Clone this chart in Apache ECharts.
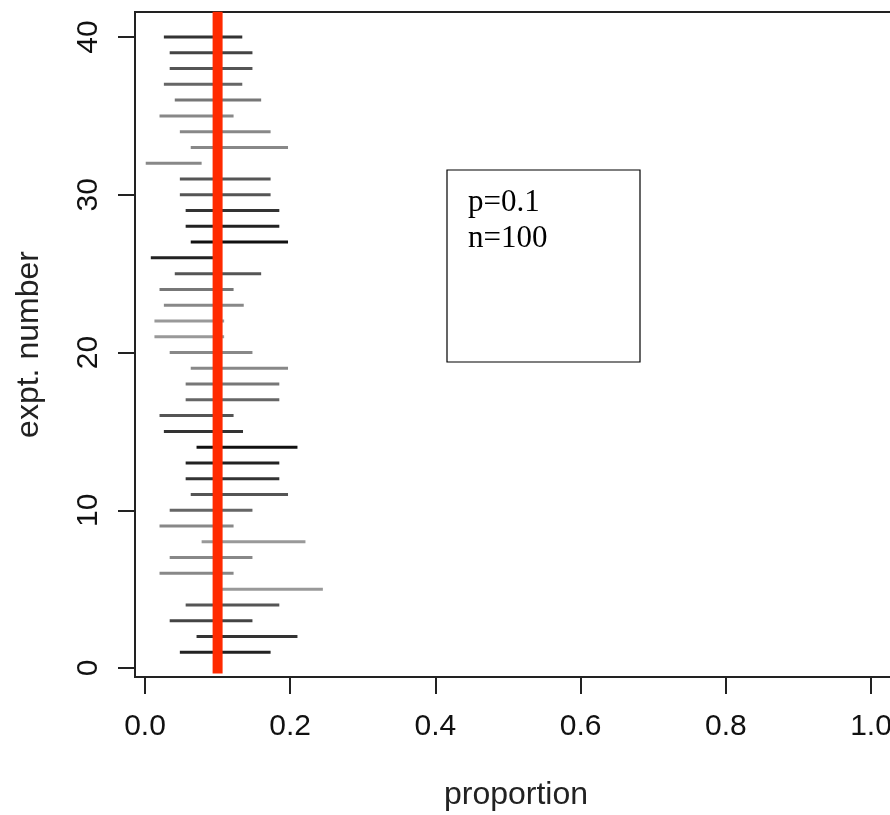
<!DOCTYPE html>
<html>
<head>
<meta charset="utf-8">
<script src="https://cdn.jsdelivr.net/npm/echarts@6/dist/echarts.min.js"></script>
<style>
  html, body { margin: 0; padding: 0; background: #fff; }
  #chart { width: 890px; height: 815px; }
</style>
</head>
<body>
<div id="chart"></div>
<script>
// true proportion and sample size of the simulated experiments
var pTrue = 0.1;
var nSize = 100;
// experiment numbers, bottom to top
var exptNo = [1, 2, 3, 4, 5, 6, 7, 8, 9, 10,
	11, 12, 13, 14, 15, 16, 17, 18, 19, 20,
	21, 22, 23, 24, 25, 26, 27, 28, 29, 30,
	31, 32, 33, 34, 35, 36, 37, 38, 39, 40];
// interval ends
var lower = [0.048, 0.071, 0.034, 0.056, 0.096, 0.020, 0.034, 0.078, 0.020, 0.034,
	0.063, 0.056, 0.056, 0.071, 0.026, 0.020, 0.056, 0.056, 0.063, 0.034,
	0.013, 0.013, 0.026, 0.020, 0.041, 0.008, 0.063, 0.056, 0.056, 0.048,
	0.048, 0.001, 0.063, 0.048, 0.020, 0.041, 0.026, 0.034, 0.034, 0.026];
var upper = [0.173, 0.210, 0.148, 0.185, 0.245, 0.122, 0.148, 0.221, 0.122, 0.148,
	0.197, 0.185, 0.185, 0.210, 0.135, 0.122, 0.185, 0.185, 0.197, 0.148,
	0.109, 0.109, 0.136, 0.122, 0.160, 0.095, 0.197, 0.185, 0.185, 0.173,
	0.173, 0.078, 0.197, 0.173, 0.122, 0.160, 0.134, 0.148, 0.148, 0.134];
// grey level of each interval
var shade = ['#222', '#333', '#444', '#555', '#999', '#888', '#888', '#999', '#888', '#666',
	'#555', '#333', '#222', '#111', '#333', '#555', '#666', '#777', '#888', '#888',
	'#999', '#999', '#888', '#777', '#555', '#222', '#111', '#222', '#333', '#555',
	'#555', '#888', '#888', '#888', '#888', '#777', '#666', '#555', '#444', '#333'];
var xTicks = [0, 0.2, 0.4, 0.6, 0.8, 1.0];
var yTicks = [0, 10, 20, 30, 40];
// full vertical extent of the plot region (for the p line)
var yLimits = [-0.35, 41.6];

var chart = echarts.init(document.getElementById('chart'));
var axisFont = 'Liberation Sans, Arial, Helvetica, sans-serif';

var intervalData = exptNo.map(function (n, i) {
	return [lower[i], upper[i], n];
});

var hiddenParts = {
	axisLine : {show : false}, axisTick : {show : false},
	axisLabel : {show : false}, splitLine : {show : false}
};

var option = {
	animation : false,
	backgroundColor : '#fff',
	grid : [
		// data region
		{left : 145, top : 37, width : 726, height : 631, show : false, outerBoundsMode : 'none'},
		// plot box
		{left : 135, top : 12, width : 762, height : 665, show : true, outerBoundsMode : 'none',
			borderColor : '#222', borderWidth : 2, backgroundColor : 'transparent'}
	],
	xAxis : [{
		gridIndex : 0, type : 'value', min : xTicks[0], max : xTicks[xTicks.length - 1],
		interval : 0.2, offset : 9,
		axisLine : {show : true, onZero : false, lineStyle : {color : '#222', width : 2}},
		axisTick : {show : true, length : 17, lineStyle : {color : '#222', width : 2}},
		axisLabel : {margin : 35, fontFamily : axisFont, fontSize : 30, color : '#111',
			formatter : function (v) { return v.toFixed(1); }},
		splitLine : {show : false}
	}, echarts.util.extend({
		gridIndex : 1, type : 'value', min : 0, max : 1,
		name : 'proportion', nameLocation : 'middle', nameGap : 102,
		nameTextStyle : {fontFamily : axisFont, fontSize : 32, color : '#222'}
	}, hiddenParts)],
	yAxis : [{
		gridIndex : 0, type : 'value', min : yTicks[0], max : yTicks[yTicks.length - 1],
		interval : 10, offset : 10,
		axisLine : {show : true, onZero : false, lineStyle : {color : '#222', width : 2}},
		axisTick : {show : true, length : 17, lineStyle : {color : '#222', width : 2}},
		axisLabel : {margin : 31, rotate : 90, fontFamily : axisFont, fontSize : 30, color : '#111'},
		splitLine : {show : false}
	}, echarts.util.extend({
		gridIndex : 1, type : 'value', min : 0, max : 1,
		name : 'expt. number', nameLocation : 'middle', nameGap : 90,
		nameTextStyle : {fontFamily : axisFont, fontSize : 32, color : '#222'}
	}, hiddenParts)],
	series : [{
		type : 'custom',
		xAxisIndex : 0, yAxisIndex : 0,
		clip : false,
		encode : {x : [0, 1], y : 2},
		data : intervalData,
		renderItem : function (params, api) {
			var a = api.coord([api.value(0), api.value(2)]),
				b = api.coord([api.value(1), api.value(2)]);
			return {
				type : 'line',
				shape : {x1 : a[0], y1 : a[1], x2 : b[0], y2 : b[1]},
				style : {stroke : shade[params.dataIndex], lineWidth : 3}
			};
		}
	}, {
		type : 'line',
		xAxisIndex : 0, yAxisIndex : 0,
		clip : false, symbol : 'none', z : 5,
		data : [[pTrue, yLimits[0]], [pTrue, yLimits[1]]],
		lineStyle : {color : '#ff2a00', width : 10, cap : 'butt'}
	}],
	graphic : [{
		type : 'rect',
		shape : {x : 447, y : 170, width : 193, height : 192},
		style : {fill : 'none', stroke : '#000', lineWidth : 1.2}
	}, {
		type : 'text',
		x : 468, y : 185,
		style : {
			text : 'p=' + pTrue + '\nn=' + nSize,
			font : '31px "Liberation Serif", "Times New Roman", serif',
			lineHeight : 36,
			fill : '#000'
		}
	}]
};
chart.setOption(option);
</script>
</body>
</html>
